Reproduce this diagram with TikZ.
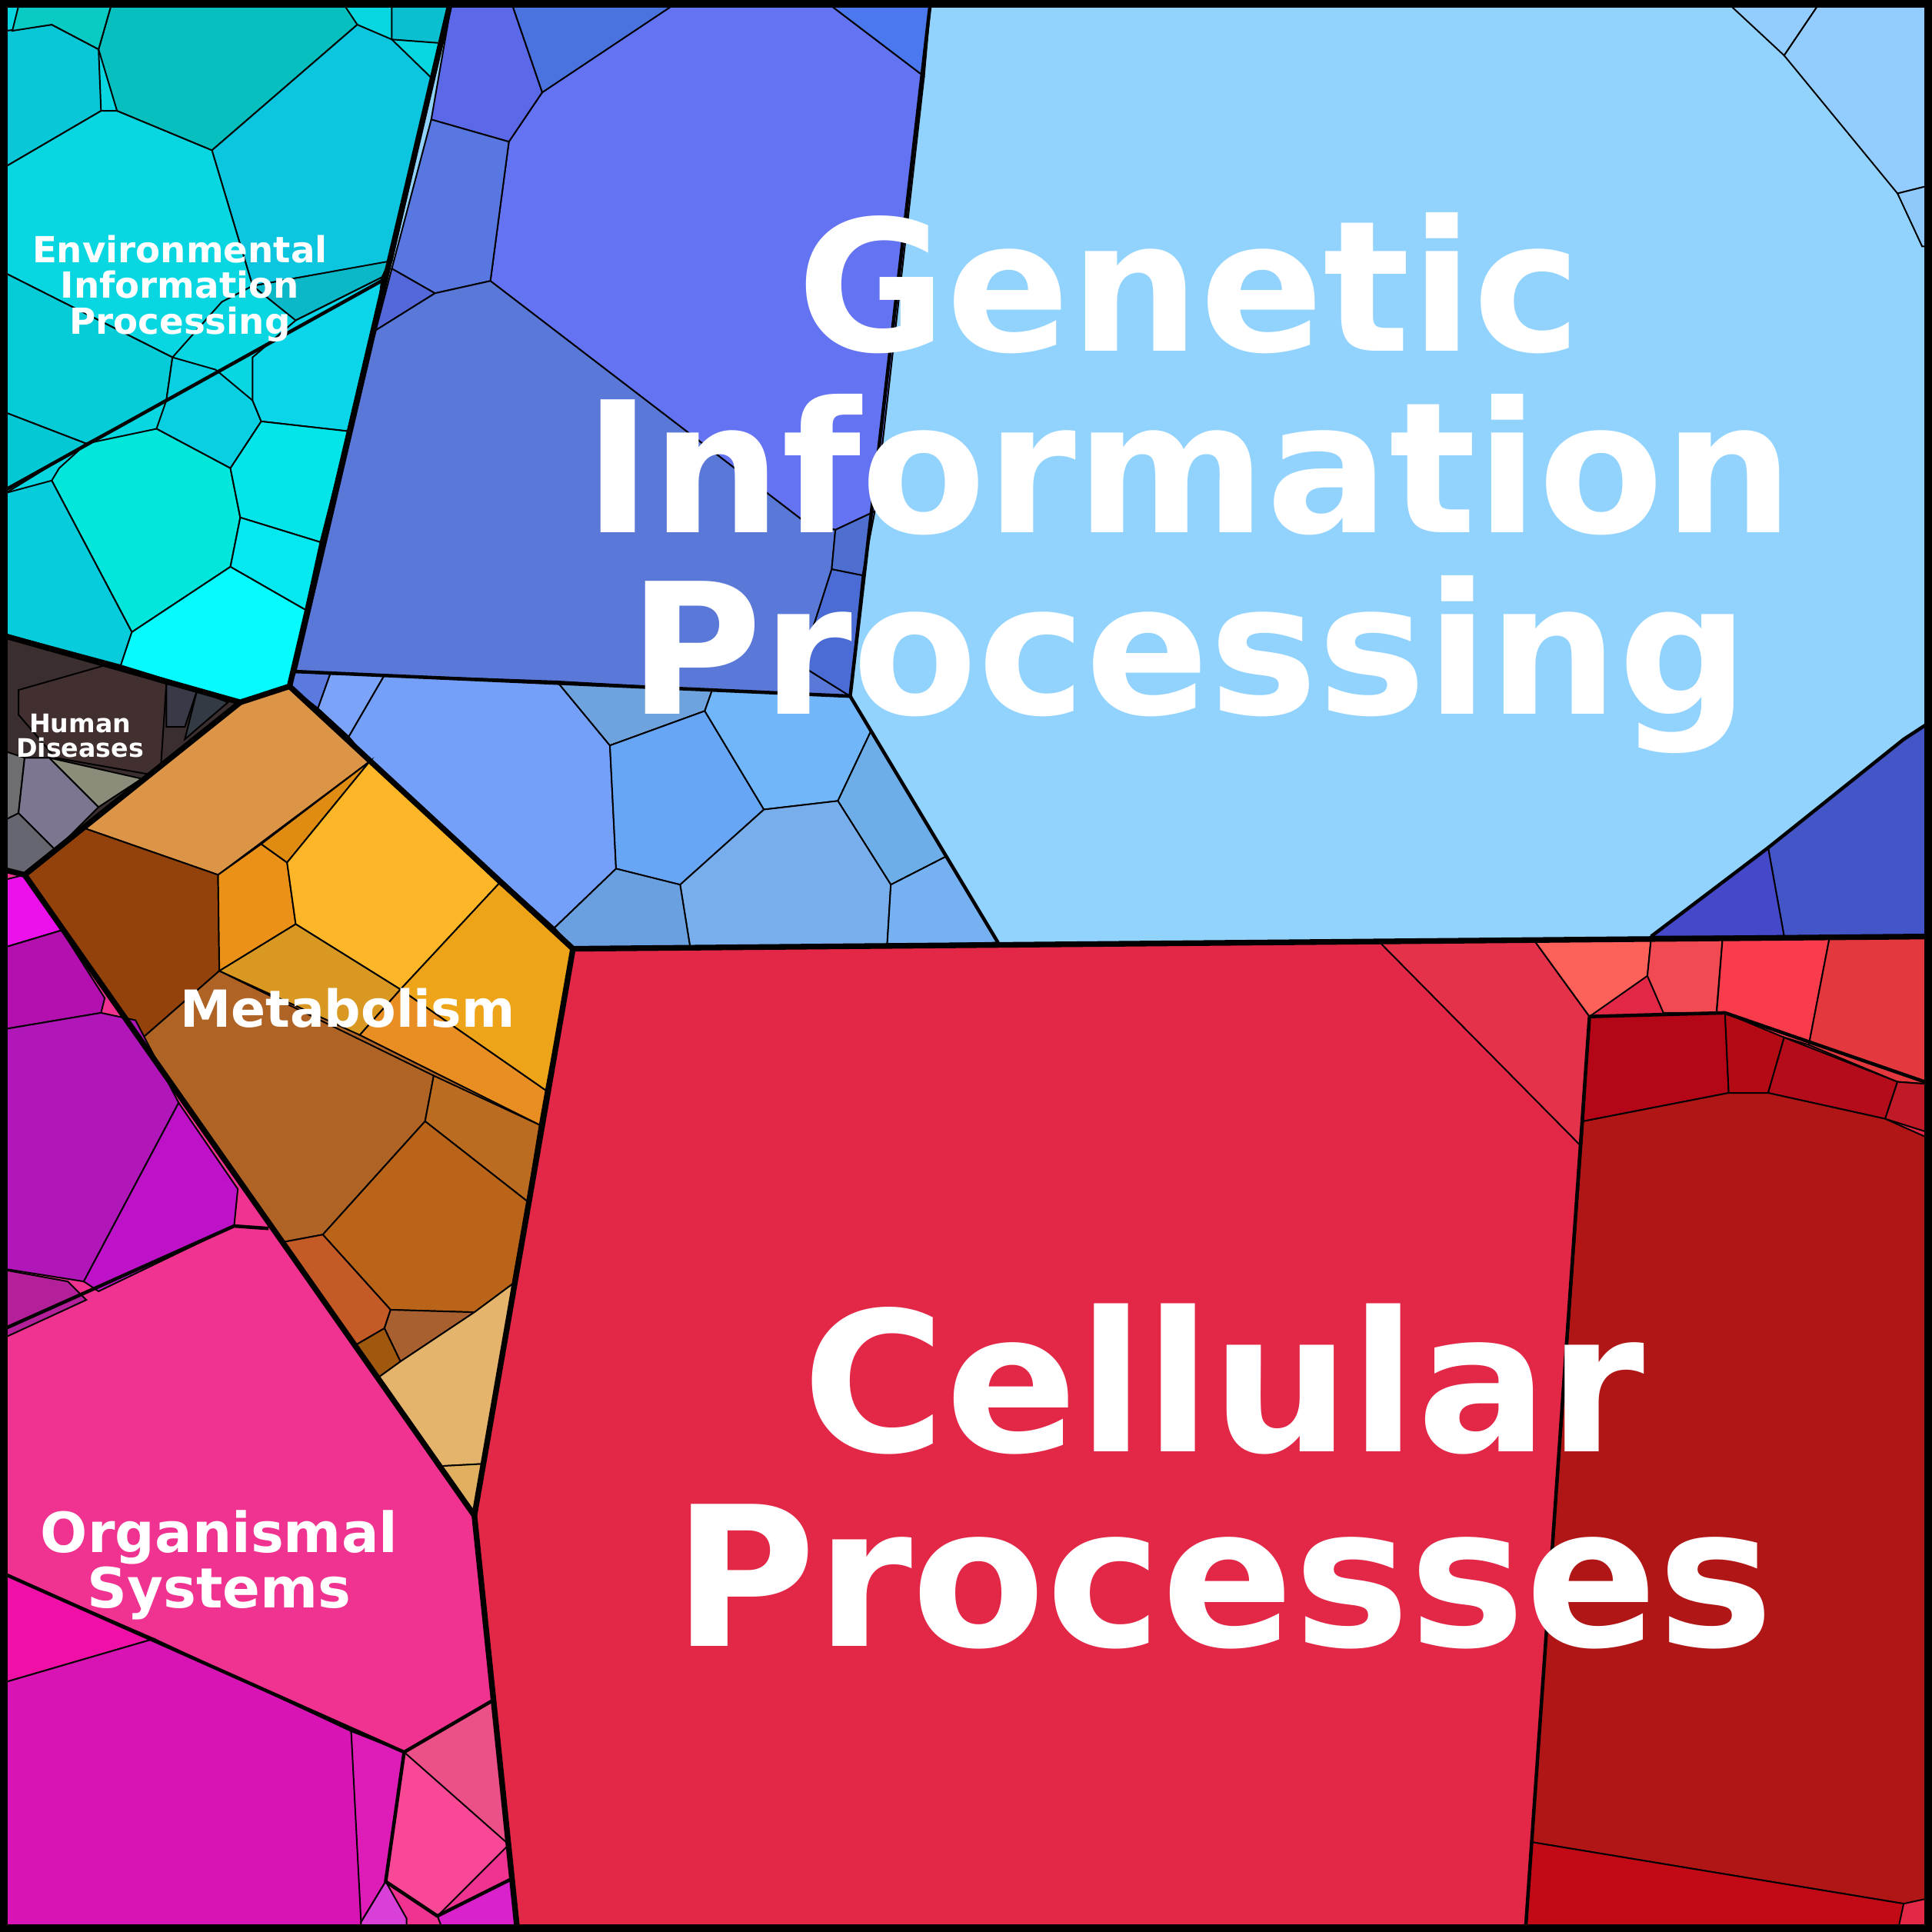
\documentclass[tikz,border=0pt]{standalone}
\usepackage{fontspec}
\setmainfont{DejaVu Sans}
\begin{document}
\newcommand\cl[2]{\definecolor{tmpc}{HTML}{#1}\filldraw[fill=tmpc,draw=black,line width=.35pt] #2 -- cycle;}
\begin{tikzpicture}[x=0.1mm,y=-0.1mm,
  thick line/.style={line width=1.3pt,line join=round},
  mid line/.style={line width=0.8pt,line join=round},
  lbl/.style={text=white,font=\bfseries,align=center,inner sep=0pt}]
\useasboundingbox (0,0) rectangle (1568,1568);
% base fills
\cl{E22747}{(465,770)--(1568,760)--(1568,1568)--(420,1568)--(385,1230)}
\cl{F03390}{(0,705)--(20,710)--(385,1230)--(420,1568)--(0,1568)}
\cl{AF6426}{(195,570)--(235,557)--(465,770)--(385,1230)--(20,710)}
\cl{3A2E2E}{(0,515)--(195,570)--(20,710)--(0,705)}
\cl{08D7E1}{(0,0)--(366,0)--(235,557)--(195,570)--(0,515)}
\cl{92D3FE}{(366,0)--(1568,0)--(1568,760)--(465,770)--(235,557)}
% Genetic cells
\cl{93CCFE}{(1405,5)--(1475,5)--(1448,45)}
\cl{93CCFE}{(1475,5)--(1568,5)--(1568,150)--(1540,157)--(1448,45)}
\cl{8FC8FA}{(1540,157)--(1568,150)--(1568,200)--(1560,200)}
\cl{4455C8}{(1545,600)--(1568,585)--(1568,760)--(1448,760)--(1435,688)}
\cl{4548C8}{(1435,688)--(1448,760)--(1340,760)}
\cl{6473F2}{(440,75)--(545,5)--(675,5)--(750,62)--(710,415)--(678,430)--(655,425)--(398,228)--(413,115)}
\cl{4A73E0}{(416,5)--(545,5)--(440,75)}
\cl{4B78EE}{(675,5)--(755,5)--(750,62)}
\cl{5B68E8}{(366,5)--(416,5)--(440,75)--(413,115)--(350,97)}
\cl{5877E0}{(350,97)--(413,115)--(398,228)--(353,238)--(318,218)}
\cl{5568DA}{(318,218)--(353,238)--(305,268)}
\cl{5978D8}{(305,268)--(353,238)--(398,228)--(655,425)--(678,430)--(675,462)--(650,540)--(690,565)--(240,545)}
\cl{4F6FD0}{(678,430)--(710,415)--(700,467)--(675,462)}
\cl{4B6CD4}{(675,462)--(700,467)--(690,565)--(650,540)}
\cl{5A7AE0}{(240,545)--(268,547)--(258,575)--(235,557)}
\cl{7BA3F8}{(268,547)--(312,548)--(283,598)--(258,575)}
\cl{75A0FA}{(312,548)--(452,553)--(495,605)--(500,705)--(450,753)--(300,618)--(283,598)}
\cl{7BA3F8}{(258,575)--(283,598)--(300,618)--(235,557)}
\cl{6FA3DE}{(452,553)--(578,560)--(572,577)--(495,605)}
\cl{67A5F5}{(495,605)--(572,577)--(620,657)--(552,718)--(500,705)}
\cl{72B6FA}{(578,560)--(690,565)--(707,593)--(680,650)--(620,657)--(572,577)}
\cl{6DAEE8}{(707,593)--(768,695)--(723,718)--(680,650)}
\cl{79AEEC}{(620,657)--(680,650)--(723,718)--(720,767)--(560,768)--(552,718)}
\cl{6BA0E0}{(450,753)--(500,705)--(552,718)--(560,768)--(465,770)}
\cl{76B1F2}{(723,718)--(768,695)--(810,765)--(720,767)}
% Env cells
\cl{08BFC0}{(90,5)--(280,5)--(290,20)--(172,122)--(95,90)--(80,40)}
\cl{09C7D6}{(5,25)--(42,20)--(80,40)--(82,90)--(5,135)}
\cl{0ACBC4}{(15,5)--(90,5)--(80,40)--(42,20)--(10,25)}
\cl{0CC5DE}{(290,20)--(318,32)--(352,65)--(318,212)--(205,232)--(172,122)}
\cl{09BFD0}{(318,5)--(366,5)--(358,35)--(318,32)}
\cl{08D7E1}{(5,135)--(82,90)--(95,90)--(172,122)--(205,232)--(180,245)--(140,290)--(5,222)}
\cl{0BB8C8}{(205,232)--(316,212)--(310,225)--(240,260)}
\cl{06CCD8}{(5,222)--(140,290)--(135,325)--(70,360)--(5,335)}
\cl{08D0E2}{(140,290)--(175,300)--(205,325)--(212,342)--(187,380)--(127,348)--(135,325)}
\cl{0BD5E8}{(240,260)--(310,225)--(305,268)--(283,350)--(212,342)--(205,325)--(205,290)}
\cl{05C8D5}{(5,335)--(70,360)--(5,400)}
\cl{03E6DC}{(70,360)--(127,348)--(187,380)--(195,420)--(187,460)--(107,513)--(42,390)--(48,380)}
\cl{06CCDC}{(5,400)--(42,390)--(107,513)--(98,540)--(5,515)}
\cl{04E5EA}{(187,380)--(212,342)--(283,350)--(260,440)--(195,420)}
\cl{06E8F0}{(195,420)--(260,440)--(248,495)--(187,460)}
\cl{05FBFE}{(187,460)--(248,495)--(235,557)--(195,570)--(98,540)--(107,513)}
% Human diseases
\cl{423030}{(15,560)--(85,540)--(135,555)--(130,630)--(45,615)--(15,580)}
\cl{6E6E70}{(5,610)--(20,615)--(15,660)--(5,665)}
\cl{7D7690}{(20,615)--(40,615)--(80,655)--(45,690)--(15,660)}
\cl{8C8C7A}{(40,615)--(115,632)--(80,655)}
\cl{666670}{(5,665)--(15,660)--(45,690)--(20,710)--(5,705)}
\cl{383A48}{(135,555)--(160,560)--(150,590)--(135,590)}
\cl{333A44}{(160,560)--(185,570)--(150,600)}
% Metabolism
\cl{DC9446}{(195,570)--(235,557)--(300,618)--(177,710)--(68,672)}
\cl{92420A}{(68,672)--(177,710)--(178,788)--(115,843)--(20,710)}
\cl{EC9118}{(177,710)--(212,685)--(233,700)--(240,750)--(178,788)}
\cl{E08C12}{(212,685)--(300,618)--(233,700)}
\cl{FDB627}{(233,700)--(300,618)--(405,717)--(325,803)--(240,750)}
\cl{EDA418}{(405,717)--(465,770)--(443,885)--(325,803)}
\cl{D99822}{(178,788)--(240,750)--(325,803)--(292,840)}
\cl{E88E22}{(292,840)--(325,803)--(443,885)--(438,913)}
\cl{AF6426}{(115,843)--(178,788)--(352,873)--(345,910)--(262,1002)--(230,1008)}
\cl{BC6C20}{(352,873)--(438,913)--(428,975)--(345,910)}
\cl{BA6419}{(345,910)--(428,975)--(416,1042)--(385,1065)--(317,1063)--(262,1002)}
\cl{C45A26}{(230,1008)--(262,1002)--(317,1063)--(312,1078)--(288,1092)}
\cl{A86030}{(312,1078)--(317,1063)--(385,1065)--(325,1105)}
\cl{A0580F}{(288,1092)--(312,1078)--(325,1105)--(307,1118)}
\cl{E4B46C}{(307,1118)--(325,1105)--(385,1065)--(416,1042)--(393,1188)--(355,1190)}
\cl{E0B060}{(355,1190)--(393,1188)--(385,1230)}
% Organismal
\cl{EC10EA}{(0,715)--(20,710)--(50,755)--(0,770)}
\cl{B410B0}{(0,770)--(50,755)--(85,810)--(82,822)--(5,835)}
\cl{B116B8}{(5,835)--(82,822)--(110,828)--(145,895)--(68,1040)--(5,1030)}
\cl{BE12C8}{(145,895)--(193,965)--(190,995)--(80,1048)--(68,1040)}
\cl{B4209A}{(0,1030)--(55,1040)--(70,1055)--(5,1085)}
\cl{F010A8}{(5,1278)--(125,1330)--(5,1365)}
\cl{D814B4}{(5,1365)--(125,1330)--(285,1405)--(298,1568)--(5,1568)}
\cl{DE1CB8}{(285,1405)--(328,1422)--(313,1527)--(293,1560)}
\cl{F84896}{(328,1422)--(400,1380)--(413,1497)--(355,1555)--(313,1527)}
\cl{EC5088}{(328,1422)--(400,1380)--(413,1497)}
\cl{DA22CC}{(355,1555)--(415,1525)--(420,1568)--(360,1568)}
\cl{D840D8}{(293,1560)--(313,1527)--(330,1557)--(330,1568)--(293,1568)}
% Cellular
\cl{E5324B}{(1120,765)--(1245,763)--(1290,825)--(1283,930)}
\cl{FE605A}{(1245,763)--(1340,762)--(1337,792)--(1290,825)}
\cl{F24A52}{(1337,792)--(1350,822)--(1393,822)--(1398,762)--(1340,762)}
\cl{F83C4C}{(1398,762)--(1485,760)--(1468,848)--(1393,825)}
\cl{E2383E}{(1485,760)--(1568,760)--(1568,880)--(1540,878)--(1468,848)}
\cl{B40616}{(1290,825)--(1400,822)--(1403,887)--(1285,910)}
\cl{B30A14}{(1400,822)--(1448,842)--(1435,887)--(1403,887)}
\cl{B40C1A}{(1448,842)--(1540,878)--(1530,908)--(1435,887)}
\cl{C01A28}{(1540,878)--(1568,880)--(1568,920)--(1530,908)}
\cl{B01616}{(1285,910)--(1403,887)--(1435,887)--(1530,908)--(1568,925)--(1568,1540)--(1545,1545)--(1243,1495)}
\cl{C20A16}{(1243,1495)--(1545,1545)--(1540,1568)--(1238,1568)}
% subcategory lines
\draw[mid line] (755,3)--(690,565)--(810,765);
\draw[mid line] (240,545)--(690,565);
\draw[mid line] (0,400)--(315,225);
\draw[mid line] (1340,760)--(1435,688)--(1545,600)--(1568,585);
\draw[mid line] (1290,825)--(1400,822)--(1568,880);
\draw[mid line] (1290,825)--(1238,1568);
\draw[mid line] (0,1080)--(190,995)--(218,997);
\draw[mid line] (5,1278)--(328,1422)--(400,1380);
\draw[mid line] (328,1422)--(313,1527)--(355,1555)--(415,1525);
% category lines
\draw[thick line] (366,0)--(235,557)--(195,570)--(0,515);
\draw[thick line] (235,557)--(465,770)--(1568,760);
\draw[thick line] (195,570)--(20,710)--(0,705);
\draw[thick line] (20,710)--(385,1230)--(465,770);
\draw[thick line] (385,1230)--(420,1568);
\draw[line width=1.7pt] (3,3) rectangle (1565,1565);
% labels
\node[lbl,font=\fontsize{42.1}{42}\selectfont\bfseries] (gen) at (965,392) {Genetic\\Information\\Processing};
\node[lbl,font=\fontsize{45}{45}\selectfont\bfseries] (cel) at (993,1198) {Cellular\\Processes};
\node[lbl,font=\fontsize{8.3}{8.25}\selectfont\bfseries] (env) at (146,234) {Environmental\\Information\\Processing};
\node[lbl,font=\fontsize{5.9}{5.7}\selectfont\bfseries] (hum) at (65,597) {Human\\Diseases};
\node[lbl,font=\fontsize{11.8}{12}\selectfont\bfseries] (met) at (282,818) {Metabolism};
\node[lbl,font=\fontsize{12.8}{12.8}\selectfont\bfseries] (org) at (178,1270) {Organismal\\Systems};
\end{tikzpicture}
\end{document}
